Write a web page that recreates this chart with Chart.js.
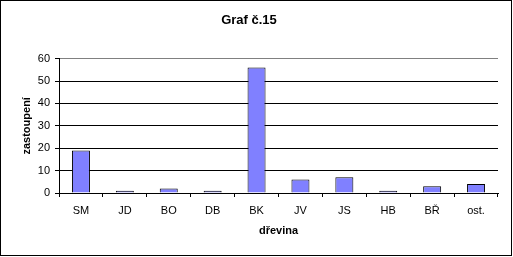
<!DOCTYPE html>
<html>
<head>
<meta charset="utf-8">
<script src="https://cdn.jsdelivr.net/npm/chart.js@4/dist/chart.umd.min.js"></script>
<style>
  body { margin: 0; background: #fff; }
</style>
</head>
<body>
<canvas id="myChart" width="513" height="257"></canvas>
<script>
const categories = ["SM", "JD", "BO", "DB", "BK", "JV", "JS", "HB", "BŘ", "ost."];
const values = [19, 1, 2, 1, 56, 6, 7, 1, 3, 4];
const yTicks = [0, 10, 20, 30, 40, 50, 60];

const font = "'Liberation Sans', Arial, sans-serif";

// white background and the black frame round the whole picture
const frame = {
  id: "frame",
  beforeDraw(chart) {
    const ctx = chart.ctx;
    ctx.save();
    ctx.fillStyle = "#fff";
    ctx.fillRect(0, 0, chart.width, chart.height);
    ctx.restore();
  },
  afterDraw(chart) {
    const ctx = chart.ctx;
    ctx.save();
    ctx.strokeStyle = "#000";
    ctx.lineWidth = 1;
    ctx.strokeRect(0.5, 0.5, 511, 255);
    ctx.restore();
  },
};

const config = {
  type: "bar",
  data: {
    labels: categories,
    datasets: [
      {
        data: values,
        backgroundColor: "#8080ff",
        borderColor: "#000",
        borderWidth: 1,
        barPercentage: 0.41,
        categoryPercentage: 1,
      },
    ],
  },
  options: {
    responsive: false,
    animation: false,
    layout: { padding: { top: 0, right: 15, bottom: 0, left: 0 } },
    plugins: {
      legend: { display: false },
      tooltip: { enabled: false },
      title: {
        display: true,
        text: "Graf č.15",
        color: "#000",
        font: { family: font, size: 13, weight: "bold", lineHeight: 1.2 },
        padding: { top: 13, bottom: 30 },
      },
    },
    scales: {
      x: {
        grid: {
          offset: true,
          drawOnChartArea: true,
          color: (c) => (c.index === categories.length ? "#808080" : "rgba(0,0,0,0)"),
          tickColor: "#000",
          tickLength: 4,
        },
        border: { color: "#000" },
        ticks: { color: "#000", font: { family: font, size: 11 }, padding: 7, maxRotation: 0, autoSkip: false },
        title: {
          display: true,
          text: "dřevina",
          color: "#000",
          font: { family: font, size: 11, weight: "bold", lineHeight: 1.2 },
          padding: { top: 0, bottom: 19 },
        },
        afterFit(scale) { scale.height = 64; },
      },
      y: {
        min: yTicks[0],
        max: yTicks[yTicks.length - 1],
        afterBuildTicks(scale) { scale.ticks = yTicks.map((v) => ({ value: v })); },
        grid: {
          color: (c) => (c.tick && c.tick.value === 60 ? "#808080" : "#000"),
          tickColor: "#000",
          tickLength: 4,
        },
        border: { color: "#000" },
        ticks: { color: "#000", font: { family: font, size: 11 }, padding: 5 },
        title: {
          display: true,
          text: "zastoupení",
          color: "#000",
          font: { family: font, size: 11, weight: "bold", lineHeight: 1.2 },
          padding: { top: 20, bottom: 0 },
        },
        afterFit(scale) { scale.width = 59; },
      },
    },
  },
  plugins: [frame],
};

const myChart = new Chart(document.getElementById("myChart"), config);
</script>
</body>
</html>
